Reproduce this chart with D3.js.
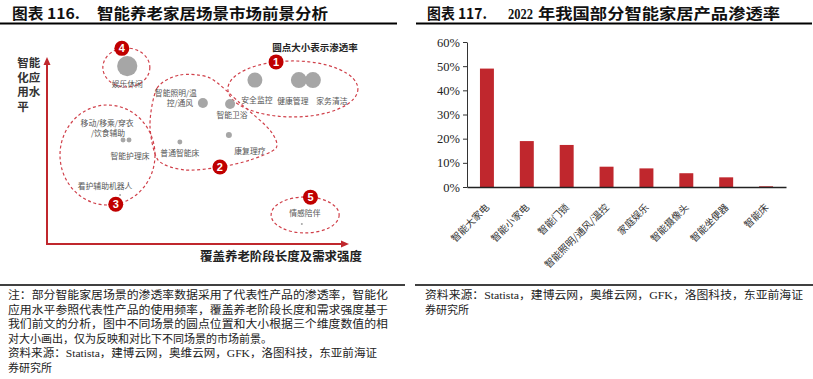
<!DOCTYPE html>
<html>
<head>
<meta charset="utf-8">
<script src="https://cdn.jsdelivr.net/npm/d3@7"></script>
<style>
  body { margin: 0; background: #fff; }
  svg { display: block; }
</style>
</head>
<body>
<div id="chart"></div>
<script>
// ---- left panel: scenes (x = 覆盖养老阶段长度及需求强度, y = 智能化应用水平, size = 渗透率)
const scenes = ["娱乐休闲", "安全监控", "健康管理", "家务清洁", "智能照明/温控/通风", "智能卫浴",
    "康复理疗", "普通智能床", "移动/移乘/穿衣/饮食辅助", "智能护理床", "看护辅助机器人", "情感陪伴"];
const coverage = [26.5, 69.2, 83.9, 88.6, 51.8, 60.9, 60.5, 44.1, 25.1, 27.1, 24.1, 84.9];
const appLevel = [96.2, 88.6, 88.6, 88.6, 76.2, 75.7, 58.9, 55.1, 56.2, 56.2, 26.5, 10.8];
const scenePen = [40, 22, 25, 25, 9.8, 9.8, 3.5, 2.4, 2.4, 2.4, 0.4, 0.4];

// prospect groups 1-5 (centre in the same value units)
const groupNo = [1, 2, 3, 4, 5];
const groupCx = [81.9, 0, 19.9, 26.2, 86.0];
const groupCy = [83.8, 0, 48.1, 95.4, 15.7];
// group 2 outline (value units)
const group2X = [34.1, 36.5, 44.1, 54.2, 64.2, 74.2, 76.3, 67.6, 57.5, 45.8, 36.8];
const group2Y = [64.3, 84.3, 91.4, 89.7, 76.2, 61.6, 51.9, 45.4, 41.6, 40.0, 45.4];

// ---- right panel: 2022 penetration
const products = ["智能大家电", "智能小家电", "智能门锁", "智能照明/通风/温控", "家庭娱乐", "智能摄像头", "智能坐便器", "智能床"];
const penetration = [0.49, 0.19, 0.174, 0.084, 0.077, 0.057, 0.04, 0.003];
const yTicks = [0, 0.1, 0.2, 0.3, 0.4, 0.5, 0.6];

const noteLines = [
    "注：部分智能家居场景的渗透率数据采用了代表性产品的渗透率，智能化",
    "应用水平参照代表性产品的使用频率，覆盖养老阶段长度和需求强度基于",
    "我们前文的分析，图中不同场景的圆点位置和大小根据三个维度数值的相",
    "对大小画出，仅为反映和对比下不同场景的市场前景。",
    "资料来源：Statista，建博云网，奥维云网，GFK，洛图科技，东亚前海证",
    "券研究所"
];
const sourceLines = [
    "资料来源：Statista，建博云网，奥维云网，GFK，洛图科技，东亚前海证",
    "券研究所"
];

const W = 813, H = 379;
const CJK = "'Noto Sans CJK SC', sans-serif";
const SERIF = "'Liberation Serif', 'Noto Sans CJK SC', serif";
const RED = "#c0272d";

const svg = d3.select("#chart").append("svg")
    .attr("width", W)
    .attr("height", H)
    .style("background", "#fff");

// ---------- titles
function title(x, parts) {
    parts.forEach(p => {
        svg.append("text")
            .attr("x", x + p.dx)
            .attr("y", 19)
            .attr("font-family", p.font || CJK)
            .attr("font-weight", "bold")
            .attr("font-size", 15)
            .attr("fill", "#111")
            .attr("textLength", p.len)
            .attr("lengthAdjust", "spacingAndGlyphs")
            .text(p.t);
    });
}
title(12, [
    { t: "图表 116.", dx: 0, len: 68 },
    { t: "智能养老家居场景市场前景分析", dx: 85, len: 231 }
]);
title(427, [
    { t: "图表 117.", dx: 0, len: 60 },
    { t: "2022", dx: 81, len: 25, font: "'Liberation Serif', serif" },
    { t: "年我国部分智能家居产品渗透率", dx: 111, len: 242 }
]);
svg.append("line").attr("x1", 0).attr("x2", 397).attr("y1", 23.5).attr("y2", 23.5)
    .attr("stroke", "#000").attr("stroke-width", 2);
svg.append("line").attr("x1", 416).attr("x2", 812).attr("y1", 23.5).attr("y2", 23.5)
    .attr("stroke", "#000").attr("stroke-width", 2);

// ---------- left diagram
const xL = d3.scaleLinear().domain([0, 100]).range([48, 347]);
const yL = d3.scaleLinear().domain([0, 100]).range([244, 59]);
const rL = d3.scaleSqrt().domain([0, 50]).range([0, 11.3]);

const left = svg.append("g");

// enclosures
const groupShape = {
    1: { rx: 65, ry: 28, badge: -105 },
    3: { rx: 47.5, ry: 50, badge: 80 },
    4: { rx: 23.5, ry: 19.5, badge: -101 },
    5: { rx: 34, ry: 18, badge: -81 }
};
const badges = [];
groupNo.forEach((g, i) => {
    if (g === 2) {
        const pts = group2X.map((v, j) => [xL(v), yL(group2Y[j])]);
        left.append("path")
            .attr("d", d3.line().curve(d3.curveCardinalClosed.tension(0.2))(pts))
            .attr("fill", "none")
            .attr("stroke", "#d0404a")
            .attr("stroke-width", 1.2)
            .attr("stroke-dasharray", "3,2.5");
        badges.push({ n: g, x: pts[8][0], y: pts[8][1] });
        return;
    }
    const s = groupShape[g];
    const cx = xL(groupCx[i]), cy = yL(groupCy[i]);
    left.append("ellipse")
        .attr("cx", cx).attr("cy", cy)
        .attr("rx", s.rx).attr("ry", s.ry)
        .attr("fill", "none")
        .attr("stroke", "#d0404a")
        .attr("stroke-width", 1.2)
        .attr("stroke-dasharray", "3,2.5");
    const t = s.badge * Math.PI / 180;
    badges.push({ n: g, x: cx + s.rx * Math.cos(t), y: cy + s.ry * Math.sin(t) });
});

// bubbles
left.selectAll("circle.dot")
    .data(scenes)
    .join("circle")
    .attr("class", "dot")
    .attr("cx", (d, i) => xL(coverage[i]))
    .attr("cy", (d, i) => yL(appLevel[i]))
    .attr("r", (d, i) => Math.max(1, rL(scenePen[i])))
    .attr("fill", "#a6a6a6");

// bubble labels (offset from dot, px)
const labelOff = {
    "娱乐休闲": [[0, 17, "娱乐休闲"]],
    "安全监控": [[2, 19, "安全监控"]],
    "健康管理": [[-6, 20, "健康管理"]],
    "家务清洁": [[19, 20, "家务清洁"]],
    "智能照明/温控/通风": [[-27, -11, "智能照明/温"], [-23, -1, "控/通风"]],
    "智能卫浴": [[2, 11, "智能卫浴"]],
    "康复理疗": [[21, 15, "康复理疗"]],
    "普通智能床": [[0, 10, "普通智能床"]],
    "移动/移乘/穿衣/饮食辅助": [[-16, -18, "移动/移乘/穿衣"], [-15, -8, "/饮食辅助"]],
    "智能护理床": [[1, 15, "智能护理床"]],
    "看护辅助机器人": [[-15, -9, "看护辅助机器人"]],
    "情感陪伴": [[3, -12, "情感陪伴"]]
};
scenes.forEach((s, i) => {
    labelOff[s].forEach(o => {
        left.append("text")
            .attr("x", xL(coverage[i]) + o[0])
            .attr("y", yL(appLevel[i]) + o[1])
            .attr("text-anchor", "middle")
            .attr("dominant-baseline", "central")
            .attr("font-family", CJK)
            .attr("font-size", 7.8)
            .attr("fill", "#555")
            .text(o[2]);
    });
});

// badges
const bg = left.selectAll("g.badge").data(badges).join("g")
    .attr("class", "badge")
    .attr("transform", d => `translate(${d.x},${d.y})`);
bg.append("circle").attr("r", 7.5).attr("fill", "#c00000");
bg.append("text")
    .attr("text-anchor", "middle")
    .attr("dy", "0.36em")
    .attr("font-family", "'Liberation Sans', Arial, sans-serif")
    .attr("font-weight", "bold")
    .attr("font-size", 11)
    .attr("fill", "#fff")
    .text(d => d.n);

left.append("text")
    .attr("x", 315).attr("y", 50.5)
    .attr("text-anchor", "middle")
    .attr("font-family", CJK)
    .attr("font-weight", "bold")
    .attr("font-size", 9.5)
    .attr("fill", "#222")
    .text("圆点大小表示渗透率");

// axes (L-shaped arrows)
const x0 = xL(0) - 1, y0 = yL(0);
left.append("path")
    .attr("d", `M${x0},${yL(100) + 4} L${x0},${y0} L${xL(100) - 4},${y0}`)
    .attr("fill", "none")
    .attr("stroke", RED)
    .attr("stroke-width", 2);
left.append("path")
    .attr("d", `M${x0},${yL(100) - 2} L${x0 - 3.5},${yL(100) + 6} L${x0 + 3.5},${yL(100) + 6} Z`)
    .attr("fill", RED);
left.append("path")
    .attr("d", `M${xL(100) + 2},${y0} L${xL(100) - 6},${y0 - 3.5} L${xL(100) - 6},${y0 + 3.5} Z`)
    .attr("fill", RED);

// axis titles
const yTitle = ["智能", "化应", "用水", "平"];
yTitle.forEach((row, i) => {
    row.split("").forEach((c, j) => {
        left.append("text")
            .attr("x", 23 + j * 11.5)
            .attr("y", 62 + i * 14.7)
            .attr("text-anchor", "middle")
            .attr("dominant-baseline", "central")
            .attr("font-family", CJK)
            .attr("font-weight", "bold")
            .attr("font-size", 11.5)
            .attr("fill", "#333")
            .text(c);
    });
});
left.append("text")
    .attr("x", 281).attr("y", 260.5)
    .attr("text-anchor", "middle")
    .attr("font-family", CJK)
    .attr("font-weight", "bold")
    .attr("font-size", 12.5)
    .attr("fill", "#222")
    .attr("textLength", 162)
    .attr("lengthAdjust", "spacingAndGlyphs")
    .text("覆盖养老阶段长度及需求强度");

// ---------- right bar chart
const x = d3.scaleBand().domain(products).range([467, 786]).paddingInner(0.65).paddingOuter(0.325);
const y = d3.scaleLinear().domain([0, 0.6]).range([187, 42]);

svg.append("g")
    .selectAll("rect")
    .data(products)
    .join("rect")
    .attr("x", d => x(d))
    .attr("width", x.bandwidth())
    .attr("y", (d, i) => y(penetration[i]))
    .attr("height", (d, i) => y(0) - y(penetration[i]))
    .attr("fill", RED);

const yAxis = svg.append("g")
    .attr("transform", "translate(467,0)")
    .call(d3.axisLeft(y).tickValues(yTicks).tickFormat(d3.format(".0%")).tickSize(4).tickSizeOuter(0));
yAxis.select(".domain").attr("stroke", "#333");
yAxis.selectAll(".tick line").attr("stroke", "#333");
yAxis.selectAll("text")
    .attr("x", -7)
    .attr("font-family", "'Liberation Serif', serif")
    .attr("font-size", 12.5)
    .attr("fill", "#222");

const xAxis = svg.append("g")
    .attr("transform", "translate(0,187)")
    .call(d3.axisBottom(x).tickSize(0).tickSizeOuter(0));
xAxis.select(".domain").attr("stroke", "#222").attr("stroke-width", 1.3);
xAxis.selectAll("text")
    .attr("x", 0).attr("y", 0).attr("dy", 0)
    .attr("text-anchor", "end")
    .attr("transform", "translate(3,21) rotate(-45)")
    .attr("font-family", CJK)
    .attr("font-size", 9.8)
    .attr("fill", "#333");

// ---------- notes / sources
svg.append("line").attr("x1", 0).attr("x2", 405).attr("y1", 285).attr("y2", 285)
    .attr("stroke", "#000").attr("stroke-width", 1.5);
svg.append("line").attr("x1", 415).attr("x2", 813).attr("y1", 285).attr("y2", 285)
    .attr("stroke", "#000").attr("stroke-width", 1.5);

const noteLen = [380, 380, 380, null, 369, null];
noteLines.forEach((l, i) => {
    const t = svg.append("text")
        .attr("x", 8)
        .attr("y", 299 + i * 14.5)
        .attr("font-family", SERIF)
        .attr("font-size", 11)
        .attr("fill", "#222")
        .text(l);
    if (noteLen[i]) t.attr("textLength", noteLen[i]).attr("lengthAdjust", "spacingAndGlyphs");
});
const srcLen = [378, null];
sourceLines.forEach((l, i) => {
    const t = svg.append("text")
        .attr("x", 425)
        .attr("y", 299 + i * 14.5)
        .attr("font-family", SERIF)
        .attr("font-size", 11)
        .attr("fill", "#222")
        .text(l);
    if (srcLen[i]) t.attr("textLength", srcLen[i]).attr("lengthAdjust", "spacingAndGlyphs");
});
</script>
</body>
</html>
